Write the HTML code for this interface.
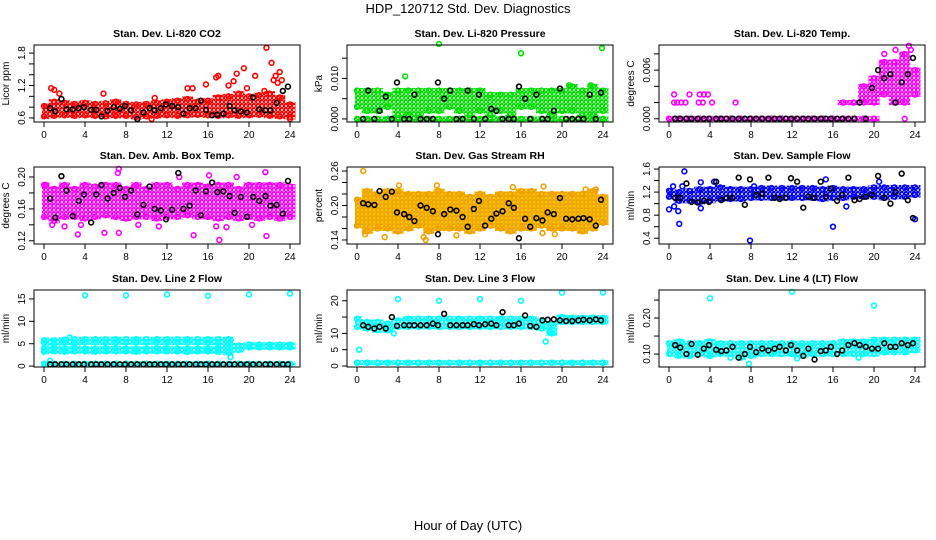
<!DOCTYPE html>
<html><head><meta charset="utf-8"><style>
body{margin:0;background:#fff}
svg{display:block;font-family:"Liberation Sans",sans-serif}
</style></head><body>
<svg id="c" width="936" height="540" viewBox="0 0 936 540">
<defs id="defs"></defs>
<text x="468" y="13" text-anchor="middle" font-size="13">HDP_120712  Std. Dev. Diagnostics</text>
<text x="468" y="530" text-anchor="middle" font-size="13">Hour of Day (UTC)</text>
</svg>
<script>
const T = [0,1,2,3,4,5,6,7,8,9,10,11,12,13,14,15,16,17,18,19,20,21,22,23,24];
const BT = [0.6,1.1,1.7,2.2,2.8,3.4,3.9,4.6,5.1,5.6,6.2,6.8,7.4,7.9,8.5,9.1,9.7,10.3,10.8,11.4,11.9,12.5,13.1,13.6,14.2,14.8,15.3,15.8,16.4,16.9,17.5,18.1,18.6,19.2,19.8,20.4,21,21.6,22.1,22.7,23.3,23.8];
const xTicks = [0,4,8,12,16,20,24];
const Z = [0,0,0,0,0,0,0,0,0,0,0,0,0,0,0,0,0,0,0,0,0,0,0,0,0];
const N = null;

const co2Lo = [0.63,0.64,0.65,0.64,0.65,0.64,0.63,0.64,0.64,0.62,0.63,0.64,0.65,0.64,0.65,0.66,0.65,0.64,0.65,0.64,0.65,0.66,0.64,0.63,0.62];
const co2Hi = [0.82,0.9,0.88,0.86,0.88,0.86,0.87,0.9,0.86,0.85,0.86,0.88,0.9,0.92,0.95,0.9,0.92,0.98,1.0,1.05,1.0,1.02,1.05,0.98,0.85];
const co2OutT = [0.7,1,1.5,5.8,10.8,14,14.5,15.8,16.8,17,18,18.5,18.8,19.5,19.8,20.6,21.5,21.7,22.2,22.4,22.6,22.8,23,23.2,9.1,10.5,24];
const co2OutV = [1.15,1.12,1.05,1.05,0.97,1.15,1.15,1.22,1.35,1.38,1.2,1.28,1.42,1.52,1.15,1.38,1.1,1.9,1.62,1.3,1.38,1.25,1.45,1.3,0.58,0.58,0.58];
const co2Blk = [0.78,0.72,0.95,0.76,0.76,0.78,0.8,0.75,0.75,0.63,0.73,0.8,0.77,0.82,0.74,0.58,0.7,0.78,0.74,0.78,0.85,0.82,0.8,0.68,0.78,0.78,0.92,0.75,0.65,0.66,0.68,0.82,0.74,0.72,0.7,0.98,0.76,0.74,0.74,0.88,1.1,1.18];

const prLo = [0.003,0.002,0.002,0.003,0.001,0.001,0.001,0.002,0.002,0.003,0.002,0.001,0.002,0.001,0.002,0.001,0.003,0.003,0.002,0.001,0.002,0.002,0.001,0.001,0.002];
const prHi = [0.007,0.007,0.007,0.006,0.007,0.007,0.007,0.007,0.007,0.007,0.007,0.007,0.007,0.006,0.006,0.006,0.007,0.007,0.007,0.007,0.007,0.008,0.007,0.008,0.007];
const prOutT = [4.7,8,16,23.9,20.7,22.8];
const prOutV = [0.0105,0.0185,0.0162,0.0175,0.0083,0.0083];
const prBlk = [0,0.007,0,0.002,0.0055,0,0.009,0,0,0.006,0,0,0,0.009,0.005,0.007,0,0,0.007,0,0.006,0,0.0025,0.002,0,0,0,0.008,0.005,0,0.006,0,0,0.002,0.0075,0,0,0,0,0.006,0,0.0065];

const tpZero = [0,0,0,0,0,0,0,0,0,0,0,0,0,0,0,0,0,0,0,0,0,N,N,N,N];
const tpLo = [N,N,N,N,N,N,N,N,N,N,N,N,N,N,N,N,N,0.002,0.002,0.002,0.002,0.003,0.002,0.002,0.003];
const tpHi = [N,N,N,N,N,N,N,N,N,N,N,N,N,N,N,N,N,0.002,0.002,0.004,0.005,0.007,0.007,0.008,0.006];
const tpOutT = [0.5,0.8,1.2,1.6,2.9,3.3,4.2,6.5,0.5,2,3,3.4,3.8,21,22.1,23.4,23.6,23];
const tpOutV = [0.002,0.002,0.002,0.002,0.002,0.002,0.002,0.002,0.003,0.003,0.003,0.003,0.003,0.008,0.0085,0.009,0.0085,0];
const tpBlk = [0,0,0,0,0,0,0,0,0,0,0,0,0,0,0,0,0,0,0,0,0,0,0,0,0,0,0,0,0,0,0,0,0.002,0,0.0038,0.006,0.005,0.0055,0.002,0.0045,0.0055,0.0075];

const abLo = [0.15,0.145,0.15,0.15,0.148,0.15,0.152,0.15,0.148,0.15,0.15,0.148,0.15,0.15,0.152,0.15,0.15,0.148,0.15,0.148,0.15,0.148,0.15,0.148,0.15];
const abHi = [0.19,0.185,0.19,0.185,0.19,0.188,0.19,0.19,0.185,0.19,0.185,0.19,0.19,0.185,0.19,0.19,0.188,0.19,0.19,0.185,0.19,0.19,0.19,0.19,0.188];
const abOutT = [0.2,0.8,2,3.3,3.6,5.9,7.3,7.2,7.3,9.2,11.2,14.6,16.8,17.1,17.8,20.3,21.7,21.6,16.1,18.8,13.2];
const abOutV = [0.19,0.14,0.138,0.128,0.14,0.13,0.13,0.205,0.21,0.14,0.138,0.127,0.138,0.121,0.137,0.14,0.126,0.206,0.202,0.2,0.2];
const abBlk = [0.173,0.149,0.201,0.183,0.151,0.17,0.178,0.143,0.178,0.19,0.173,0.18,0.186,0.175,0.183,0.153,0.165,0.188,0.16,0.158,0.147,0.159,0.205,0.16,0.164,0.183,0.152,0.182,0.193,0.181,0.182,0.176,0.155,0.175,0.15,0.175,0.17,0.176,0.164,0.165,0.154,0.195];

const rhLo = [0.165,0.155,0.16,0.16,0.155,0.16,0.165,0.155,0.16,0.16,0.16,0.155,0.16,0.165,0.16,0.155,0.16,0.16,0.165,0.16,0.16,0.16,0.155,0.16,0.17];
const rhHi = [0.21,0.225,0.22,0.225,0.225,0.22,0.22,0.22,0.225,0.22,0.22,0.215,0.22,0.215,0.22,0.22,0.225,0.225,0.22,0.22,0.22,0.22,0.22,0.225,0.215];
const rhOutT = [0.6,0.8,2.7,4.1,6.5,6.7,7.8,9.7,15.2,18.2,18.1,19.3,22.3,23.3];
const rhOutV = [0.26,0.15,0.145,0.235,0.145,0.14,0.235,0.148,0.232,0.233,0.152,0.15,0.228,0.228];
const rhBlk = [0.204,0.202,0.201,0.225,0.215,0.224,0.188,0.185,0.18,0.173,0.2,0.196,0.19,0.15,0.185,0.193,0.191,0.18,0.163,0.194,0.208,0.165,0.177,0.186,0.19,0.204,0.196,0.143,0.177,0.163,0.178,0.174,0.188,0.185,0.213,0.177,0.176,0.177,0.178,0.176,0.165,0.21];

const sfLo = [1.12,1.05,1.05,1.03,1.05,1.08,1.08,1.08,1.1,1.1,1.1,1.1,1.1,1.1,1.1,1.08,1.1,1.1,1.12,1.12,1.12,1.1,1.12,1.12,1.15];
const sfHi = [1.22,1.2,1.22,1.25,1.25,1.28,1.25,1.25,1.25,1.27,1.27,1.27,1.27,1.27,1.27,1.25,1.27,1.25,1.25,1.25,1.28,1.28,1.28,1.28,1.28];
const sfOutT = [0,0.5,0.9,1,1.5,1.3,0.4,3.1,3.1,4.4,7.9,8.3,15.3,16,17.3,20.5,24];
const sfOutV = [0.9,0.95,0.87,0.65,1.56,1.3,1.3,1.37,0.92,1.38,0.36,1.3,1.42,0.6,0.95,1.38,0.73];
const sfBlk = [1.1,1.1,1.35,1.03,1.02,1.05,1.03,1.38,1.06,1.1,1.1,1.45,0.98,1.42,1.15,1.17,1.45,1.1,1.08,1.1,1.44,1.38,0.93,1.12,1.1,1.38,1.12,1.26,1.05,1.15,1.45,1.06,1.08,1.12,1.15,1.48,1.1,1.0,1.2,1.52,1.06,0.75];

const l2A = [0.5,0.5,0.5,0.5,0.5,0.5,0.5,0.5,0.5,0.5,0.5,0.5,0.5,0.5,0.5,0.5,0.5,0.5,0.5,0.5,0.5,0.5,0.5,0.5,0.5];
const l2BLo = [3.2,3.3,3.2,3.3,3.3,3.2,3.3,3.3,3.3,3.2,3.3,3.3,3.3,3.3,3.2,3.3,3.3,3.2,3.0,3.6,4.2,4.2,4.2,4.2,4.2];
const l2BHi = [4.0,4.0,3.9,4.0,3.9,3.9,4.0,4.0,3.9,3.9,3.9,4.0,4.0,3.9,3.9,3.9,3.9,4.0,4.0,4.6,4.8,4.8,4.8,4.8,4.8];
const l2CLo = [5.2,5.0,5.2,5.2,5.3,5.3,5.3,5.3,5.3,5.3,5.3,5.3,5.3,5.3,5.3,5.3,5.2,5.2,5.0,N,N,N,N,N,N];
const l2CHi = [5.8,5.8,5.9,6.0,6.0,6.0,6.0,6.0,6.0,6.0,6.0,6.0,6.0,6.0,6.0,6.0,6.0,6.0,6.0,N,N,N,N,N,N];
const l2OutT = [4,8,12,16,20,24,0.6,18.2,2.5];
const l2OutV = [15.8,15.8,16,15.7,16,16.2,1.2,2,6.4];
const l2Blk = [0.4,0.4,0.4,0.4,0.4,0.4,0.4,0.4,0.4,0.4,0.4,0.4,0.4,0.4,0.4,0.4,0.4,0.4,0.4,0.4,0.4,0.4,0.4,0.4,0.4,0.4,0.4,0.4,0.4,0.4,0.4,0.4,0.4,0.4,0.4,0.4,0.4,0.4,0.4,0.4,0.4,0.4];

const l3A = [1,1,1,1,1,1,1,1,1,1,1,1,1,1,1,1,1,1,1,1,1,1,1,1,1];
const l3Lo = [12,11.5,11,11,12,12,12,12,12,12,12,12,12,12,12,12,12,12,11.5,10,13.5,13.5,13.5,13.5,13.5];
const l3Hi = [14.5,13.5,13.5,13,14,14.5,14.5,14.5,14.5,14.5,14.5,14.5,14.5,14.5,14.5,14.5,14.5,14.5,14,13,15,14.8,14.8,14.8,14.8];
const l3OutT = [0.2,4,8,12,16,20,24,3.6,18.4,18.8,19.1];
const l3OutV = [5,20.5,20,20.5,20,22.5,22.5,10,7.5,10.5,11];
const l3Blk = [12.5,12,11.5,12,11.5,15,12.3,12.5,12.5,12.5,12.5,12.5,13,12.5,16,12.5,12.5,12.5,12.5,12.8,12.5,12.8,13,12.5,16.5,12.5,12.5,13,15.5,12.3,12,14,14.2,14.3,14,13.8,13.8,14,14.2,14,14.3,14];

const l4Lo = [0.1,0.095,0.095,0.1,0.095,0.1,0.1,0.09,0.095,0.1,0.1,0.1,0.1,0.095,0.1,0.1,0.1,0.1,0.1,0.1,0.1,0.105,0.105,0.105,0.11];
const l4Hi = [0.13,0.135,0.13,0.13,0.135,0.13,0.13,0.13,0.13,0.13,0.13,0.13,0.13,0.13,0.13,0.13,0.13,0.135,0.135,0.135,0.14,0.14,0.14,0.14,0.14];
const l4OutT = [4,12,20,7.8,12.5,6,18.5];
const l4OutV = [0.255,0.273,0.235,0.073,0.088,0.09,0.09];
const l4Blk = [0.125,0.118,0.1,0.128,0.098,0.115,0.125,0.112,0.108,0.11,0.12,0.09,0.1,0.12,0.105,0.115,0.11,0.115,0.12,0.11,0.125,0.11,0.095,0.115,0.085,0.108,0.11,0.12,0.1,0.11,0.125,0.13,0.125,0.12,0.115,0.115,0.13,0.12,0.12,0.13,0.125,0.13];

const yTicks1 = [0.6,0.8,1.0,1.2,1.4,1.6,1.8], yLab1 = ["0.6","","","1.2","","","1.8"];
const yTicks2 = [0,0.005,0.01,0.015], yLab2 = ["0.000","","0.010",""];
const yTicks3 = [0,0.002,0.004,0.006,0.008], yLab3 = ["0.000","","","0.006",""];
const yTicks4 = [0.12,0.14,0.16,0.18,0.2], yLab4 = ["0.12","","0.16","","0.20"];
const yTicks5 = [0.14,0.16,0.18,0.2,0.22,0.24,0.26], yLab5 = ["0.14","","","0.20","","","0.26"];
const yTicks6 = [0.4,0.6,0.8,1.0,1.2,1.4,1.6], yLab6 = ["0.4","","0.8","","1.2","","1.6"];
const yTicks7 = [0,5,10,15], yLab7 = ["0","5","10","15"];
const yTicks8 = [0,5,10,15,20], yLab8 = ["0","5","10","","20"];
const yTicks9 = [0.1,0.15,0.2,0.25], yLab9 = ["0.10","","0.20",""];

const panels = [
 {name:'co2',title:'Stan. Dev. Li-820 CO2',ylab:'Licor ppm',col:0,row:0,y0:0.525,y1:1.95,color:'#ff0000',bands:[[co2Lo,co2Hi]],oT:co2OutT,oV:co2OutV,blk:co2Blk,ticks:yTicks1,labs:yLab1},
 {name:'pressure',title:'Stan. Dev. Li-820 Pressure',ylab:'kPa',col:1,row:0,y0:-0.00075,y1:0.01825,color:'#00e000',bands:[[Z,Z],[prLo,prHi]],oT:prOutT,oV:prOutV,blk:prBlk,ticks:yTicks2,labs:yLab2},
 {name:'li820-temp',title:'Stan. Dev. Li-820 Temp.',ylab:'degrees C',col:2,row:0,y0:-0.0004,y1:0.0091,color:'#ff00ff',bands:[[tpZero,tpZero],[tpLo,tpHi]],oT:tpOutT,oV:tpOutV,blk:tpBlk,ticks:yTicks3,labs:yLab3},
 {name:'amb-box-temp',title:'Stan. Dev. Amb. Box Temp.',ylab:'degrees C',col:0,row:1,y0:0.116,y1:0.2125,color:'#ff00ff',bands:[[abLo,abHi]],oT:abOutT,oV:abOutV,blk:abBlk,ticks:yTicks4,labs:yLab4},
 {name:'gas-stream-rh',title:'Stan. Dev. Gas Stream RH',ylab:'percent',col:1,row:1,y0:0.133,y1:0.267,color:'#f0a000',bands:[[rhLo,rhHi]],oT:rhOutT,oV:rhOutV,blk:rhBlk,ticks:yTicks5,labs:yLab5},
 {name:'sample-flow',title:'Stan. Dev. Sample Flow',ylab:'ml/min',col:2,row:1,y0:0.3,y1:1.635,color:'#0000ff',bands:[[sfLo,sfHi]],oT:sfOutT,oV:sfOutV,blk:sfBlk,ticks:yTicks6,labs:yLab6},
 {name:'line2-flow',title:'Stan. Dev. Line 2 Flow',ylab:'ml/min',col:0,row:2,y0:-0.2,y1:17,color:'#00ffff',bands:[[l2A,l2A],[l2BLo,l2BHi],[l2CLo,l2CHi]],oT:l2OutT,oV:l2OutV,blk:l2Blk,ticks:yTicks7,labs:yLab7},
 {name:'line3-flow',title:'Stan. Dev. Line 3 Flow',ylab:'ml/min',col:1,row:2,y0:-0.3,y1:23.3,color:'#00ffff',bands:[[l3A,l3A],[l3Lo,l3Hi]],oT:l3OutT,oV:l3OutV,blk:l3Blk,ticks:yTicks8,labs:yLab8},
 {name:'line4-flow',title:'Stan. Dev. Line 4 (LT) Flow',ylab:'ml/min',col:2,row:2,y0:0.064,y1:0.278,color:'#00ffff',bands:[[l4Lo,l4Hi]],oT:l4OutT,oV:l4OutV,blk:l4Blk,ticks:yTicks9,labs:yLab9}
];

const svg = document.getElementById('c');
const defs = document.getElementById('defs');
const NS = 'http://www.w3.org/2000/svg';
function mk(tag, attrs, parent){const e=document.createElementNS(NS,tag);for(const k in attrs)e.setAttribute(k,attrs[k]);parent.appendChild(e);return e;}
const colL=[34,347,659], rowT=[45,167,290], W=266, H=77;

panels.forEach((p,pi)=>{
  const pat=mk('pattern',{id:'pat'+pi,width:4,height:4,patternUnits:'userSpaceOnUse'},defs);
  mk('rect',{x:0,y:0,width:4,height:4,fill:p.name==='gas-stream-rh'?'#ffe000':'#fff'},pat);
  mk('circle',{cx:2,cy:2,r:1.6,fill:'none',stroke:p.color,'stroke-width':1.3},pat);
  mk('rect',{x:0,y:0,width:1,height:1,fill:p.color},pat);
  const L=colL[p.col], Tp=rowT[p.row];
  const g=mk('g',{},svg);
  
  
  const xs=t=>L+10+t*(W-20)/24;
  const ys=v=>Tp+H-(v-p.y0)/(p.y1-p.y0)*H;
  const tt=mk('text',{x:L+W/2,y:Tp-8,'text-anchor':'middle','font-size':'10.5','font-weight':'bold'},g);
  tt.textContent=p.title;
  
  
  const yl=mk('text',{x:0,y:0,'text-anchor':'middle','font-size':'10',transform:`translate(${L-25},${Tp+H/2}) rotate(-90)`},g);
  yl.textContent=p.ylab;
  
  
  const data=mk('g',{},g);
  
  
  p.bands.forEach(b=>{
    const lo=b[0], hi=b[1];
    T.forEach((t,i)=>{
      if(lo[i]==null||hi[i]==null)return;
      const x=xs(t), a=ys(lo[i]), c=ys(hi[i]);
      const x1=Math.max(L+8,x-5.5), x2=Math.min(L+W-4,x+5.5);
      const r=mk('rect',{x:x1,y:Math.min(a,c)-2.5,width:x2-x1,height:Math.abs(a-c)+5,fill:'url(#pat'+pi+')'},data);
      
      
      const e1=mk('circle',{cx:x,cy:a,r:2.4,fill:'none',stroke:p.color,'stroke-width':1.6},data);
      
      
      const e2=mk('circle',{cx:x,cy:c,r:2.4,fill:'none',stroke:p.color,'stroke-width':1.6},data);
      
      
    });
  });
  p.oT.forEach((t,i)=>{
    const c=mk('circle',{cx:xs(t),cy:ys(p.oV[i]),r:2.4,fill:'none',stroke:p.color,'stroke-width':1.6},data);
    
    
  });
  const n=Math.min(BT.length,p.blk.length);
  for(let i=0;i<n;i++){
    const c=mk('circle',{cx:xs(BT[i]),cy:ys(p.blk[i]),r:2.4,fill:'none',stroke:'#000','stroke-width':1.6},data);
    
    
  }
  const box=mk('rect',{x:L,y:Tp,width:W,height:H,fill:'none',stroke:'#000','stroke-width':1},g);
  
  
  const xa=mk('g',{},g);
  
  
  mk('line',{x1:xs(0),x2:xs(24),y1:Tp+H,y2:Tp+H,stroke:'#000'},xa);
  xTicks.forEach(t=>{
    mk('line',{x1:xs(t),x2:xs(t),y1:Tp+H,y2:Tp+H+5,stroke:'#000'},xa);
    const tx=mk('text',{x:xs(t),y:Tp+H+16,'text-anchor':'middle','font-size':'10'},xa);
    tx.textContent=String(t);
  });
  const ya=mk('g',{},g);
  
  
  mk('line',{x1:L,x2:L,y1:ys(p.ticks[0]),y2:ys(p.ticks[p.ticks.length-1]),stroke:'#000'},ya);
  p.ticks.forEach((v,i)=>{
    const y=ys(v);
    mk('line',{x1:L-5,x2:L,y1:y,y2:y,stroke:'#000'},ya);
    if(p.labs[i]){
      const tx=mk('text',{x:0,y:0,'text-anchor':'middle','font-size':'10',transform:`translate(${L-9},${y}) rotate(-90)`},ya);
      tx.textContent=p.labs[i];
    }
  });
});
</script>
</body></html>
